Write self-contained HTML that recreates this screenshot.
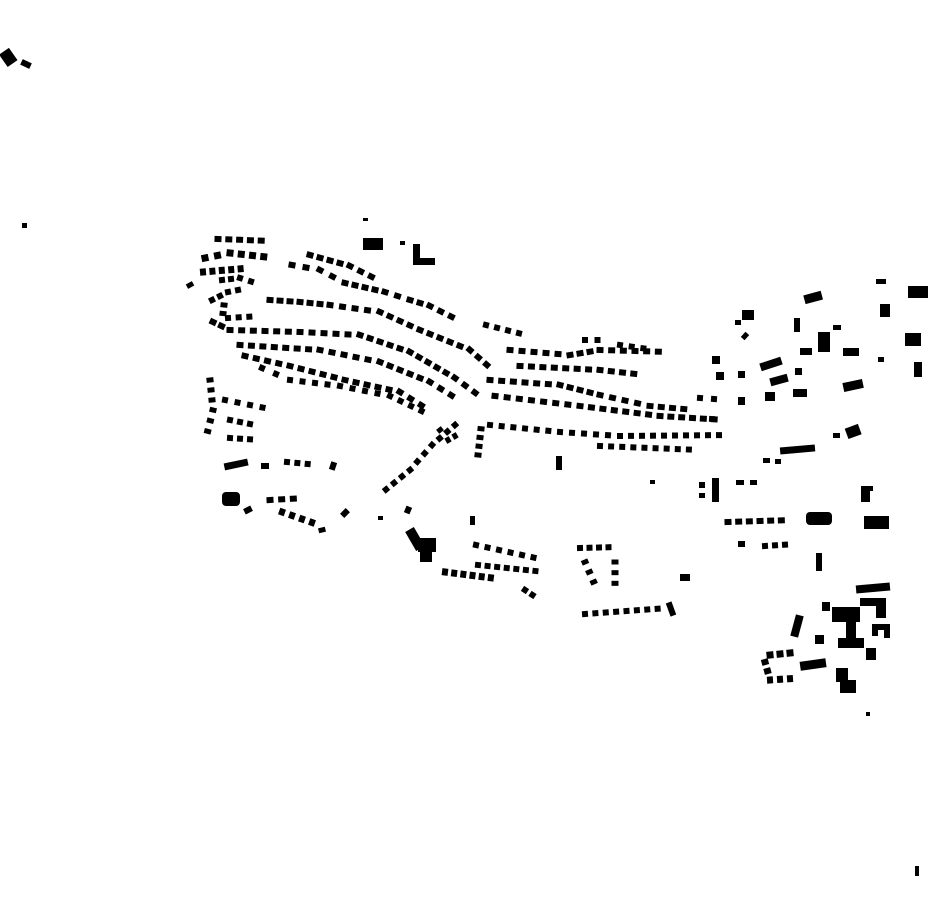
<!DOCTYPE html>
<html><head><meta charset="utf-8"><style>html,body{margin:0;padding:0;background:#fff}svg{display:block}</style></head>
<body>
<svg id="s" width="930" height="924" viewBox="0 0 930 924" xmlns="http://www.w3.org/2000/svg">
<g fill="#000" id="g">
<rect x="2" y="50" width="12" height="15" transform="rotate(-35 8 57)"/>
<rect x="21" y="61" width="10" height="6" transform="rotate(25 26 64)"/>
<rect x="22" y="223" width="5" height="5"/>
<rect x="363" y="238" width="20" height="12"/>
<rect x="363" y="218" width="5" height="3"/>
<rect x="413" y="244" width="7" height="18"/><rect x="413" y="258" width="22" height="7"/>
<rect x="400" y="241" width="5" height="4"/>
<rect x="222" y="492" width="18" height="14" rx="4"/>
<rect x="224" y="461" width="24" height="7" transform="rotate(-12 236 464)"/>
<rect x="410" y="528" width="10" height="22" transform="rotate(-30 415 539)"/>
<rect x="418" y="538" width="18" height="14"/>
<rect x="420" y="550" width="12" height="12"/>
<rect x="680" y="574" width="10" height="7"/>
<rect x="804" y="293" width="18" height="9" transform="rotate(-15 813 297)"/>
<rect x="908" y="286" width="20" height="12"/>
<rect x="876" y="279" width="10" height="5"/>
<rect x="880" y="304" width="10" height="13"/>
<rect x="905" y="333" width="16" height="13"/>
<rect x="914" y="362" width="8" height="15"/>
<rect x="878" y="357" width="6" height="5"/>
<rect x="742" y="310" width="12" height="10"/>
<rect x="735" y="320" width="6" height="5"/>
<rect x="794" y="318" width="6" height="14"/>
<rect x="818" y="332" width="12" height="20"/>
<rect x="833" y="325" width="8" height="5"/>
<rect x="843" y="348" width="16" height="8"/>
<rect x="800" y="348" width="12" height="7"/>
<rect x="760" y="360" width="22" height="8" transform="rotate(-18 771 364)"/>
<rect x="770" y="376" width="18" height="8" transform="rotate(-15 779 380)"/>
<rect x="765" y="392" width="10" height="9"/>
<rect x="793" y="389" width="14" height="8"/>
<rect x="795" y="368" width="7" height="7"/>
<rect x="843" y="381" width="20" height="9" transform="rotate(-12 853 385)"/>
<rect x="712" y="356" width="8" height="8"/>
<rect x="716" y="372" width="8" height="8"/>
<rect x="738" y="397" width="7" height="8"/>
<rect x="738" y="371" width="7" height="7"/>
<rect x="780" y="446" width="35" height="7" transform="rotate(-5 797 449)"/>
<rect x="763" y="458" width="7" height="5"/><rect x="775" y="459" width="6" height="5"/>
<rect x="846" y="426" width="14" height="11" transform="rotate(-20 853 431)"/>
<rect x="833" y="433" width="7" height="5"/>
<rect x="699" y="482" width="6" height="6"/><rect x="699" y="493" width="6" height="5"/>
<rect x="712" y="478" width="7" height="24"/>
<rect x="736" y="480" width="8" height="5"/><rect x="750" y="480" width="7" height="5"/>
<rect x="806" y="512" width="26" height="13" rx="4"/>
<rect x="864" y="516" width="25" height="13"/>
<rect x="861" y="486" width="9" height="16"/><rect x="861" y="486" width="12" height="5"/>
<rect x="738" y="541" width="7" height="6"/>
<rect x="816" y="553" width="6" height="18"/>
<rect x="856" y="584" width="34" height="8" transform="rotate(-5 873 588)"/>
<rect x="832" y="607" width="28" height="15"/>
<rect x="860" y="598" width="26" height="8"/><rect x="876" y="598" width="10" height="20"/>
<rect x="846" y="622" width="10" height="20"/><rect x="838" y="638" width="26" height="10"/>
<rect x="872" y="624" width="6" height="12"/><rect x="872" y="624" width="18" height="6"/><rect x="884" y="624" width="6" height="14"/>
<rect x="822" y="602" width="8" height="9"/>
<rect x="815" y="635" width="9" height="9"/>
<rect x="793" y="615" width="8" height="22" transform="rotate(15 797 626)"/>
<rect x="800" y="660" width="26" height="9" transform="rotate(-8 813 664)"/>
<rect x="836" y="668" width="12" height="14"/><rect x="840" y="680" width="16" height="13"/>
<rect x="866" y="648" width="10" height="12"/>
<rect x="866" y="712" width="4" height="4"/>
<rect x="915" y="866" width="4" height="10"/>
<rect x="668" y="602" width="6" height="14" transform="rotate(-20 671 609)"/>
<rect x="650" y="480" width="5" height="4"/>
<rect x="556" y="456" width="6" height="14"/>
<rect x="378" y="516" width="5" height="4"/>
<rect x="470" y="516" width="5" height="9"/>
</g>
</svg>
<script>
(function(){
var g=document.getElementById('g');
function R(x,y,w,h,a){var r=document.createElementNS('http://www.w3.org/2000/svg','rect');r.setAttribute('x',x-w/2);r.setAttribute('y',y-h/2);r.setAttribute('width',w);r.setAttribute('height',h);r.setAttribute('transform','rotate('+a+' '+x+' '+y+')');g.appendChild(r);}
function row(pts,step,w,h){step*=1.15;h+=1;for(var i=0;i<pts.length-1;i++){var a=pts[i],b=pts[i+1];var dx=b[0]-a[0],dy=b[1]-a[1];var L=Math.hypot(dx,dy);var n=Math.max(1,Math.round(L/step));var ang=Math.atan2(dy,dx)*180/Math.PI;for(var k=0;k<n;k++){var t=k/n;R(a[0]+dx*t,a[1]+dy*t,w,h,ang);}}}
var rows=[
[[[218,239],[272,241]],10,7,5],
[[[205,258],[230,253],[275,258]],10,7,6],
[[[203,272],[250,268]],9,6,6],
[[[190,285],[196,296]],8,5,6],
[[[222,280],[240,278],[262,285]],9,6,5],
[[[212,300],[228,292],[248,288]],9,6,5],
[[[292,265],[320,270],[345,283],[385,292],[410,300],[430,306],[462,322]],10,7,5],
[[[270,300],[300,302],[330,305],[380,312],[420,330],[470,350],[495,372]],10,7,5],
[[[213,322],[230,330],[300,332],[360,335],[410,352],[455,378],[485,400]],10,7,5],
[[[240,345],[320,350],[380,362],[430,382],[462,402]],10,7,5],
[[[245,356],[290,366],[345,380],[400,392],[432,412]],10,7,5],
[[[262,368],[290,380],[340,386],[390,396],[432,416]],11,6,5],
[[[310,255],[350,266],[382,282]],10,7,5],
[[[228,318],[260,316]],9,6,5],
[[[224,305],[222,322]],8,5,6],
[[[486,325],[530,336]],10,6,5],
[[[510,350],[570,355],[600,350],[670,352]],10,7,5],
[[[520,366],[600,370],[645,375]],10,7,5],
[[[490,380],[560,385],[600,395],[650,406],[695,410]],10,7,5],
[[[495,396],[580,406],[660,416],[725,420]],10,7,5],
[[[490,425],[560,432],[620,436],[730,435]],10,6,5],
[[[600,446],[700,450]],10,6,5],
[[[585,340],[610,340]],10,6,5],
[[[620,345],[655,350]],10,6,5],
[[[478,455],[482,420]],8,5,6],
[[[210,380],[213,410],[205,442]],9,5,6],
[[[225,400],[275,410]],10,6,5],
[[[230,420],[260,426]],10,6,5],
[[[230,438],[260,440]],10,6,5],
[[[265,466],[275,466]],10,8,5],
[[[287,462],[318,465]],9,6,5],
[[[333,466],[336,467]],10,6,7],
[[[270,500],[305,498]],10,7,5],
[[[282,512],[322,526]],10,6,6],
[[[322,530],[325,542]],10,5,6],
[[[345,513],[346,514]],10,6,7],
[[[248,510],[249,512]],10,6,7],
[[[455,425],[432,445],[410,470],[378,496]],10,6,5],
[[[440,430],[448,440],[462,432]],8,5,5],
[[[408,510],[420,515]],10,6,6],
[[[445,572],[500,579]],8,6,6],
[[[476,545],[545,560]],10,6,5],
[[[478,565],[545,572]],9,6,5],
[[[525,590],[540,600]],9,6,5],
[[[580,548],[618,547]],9,6,5],
[[[585,562],[598,592]],9,5,6],
[[[615,562],[615,594]],9,5,6],
[[[585,614],[668,608]],9,6,5],
[[[728,522],[792,520]],9,7,5],
[[[765,546],[795,544]],9,6,5],
[[[770,655],[800,652]],9,7,6],
[[[765,662],[770,680],[800,678]],8,6,6],
[[[700,398],[728,400]],10,6,5],
[[[712,419],[728,420]],10,6,5],
[[[745,336],[755,345]],9,5,6]
];
rows.forEach(function(r){row(r[0],r[1],r[2],r[3]);});
})();
</script>
</body></html>
